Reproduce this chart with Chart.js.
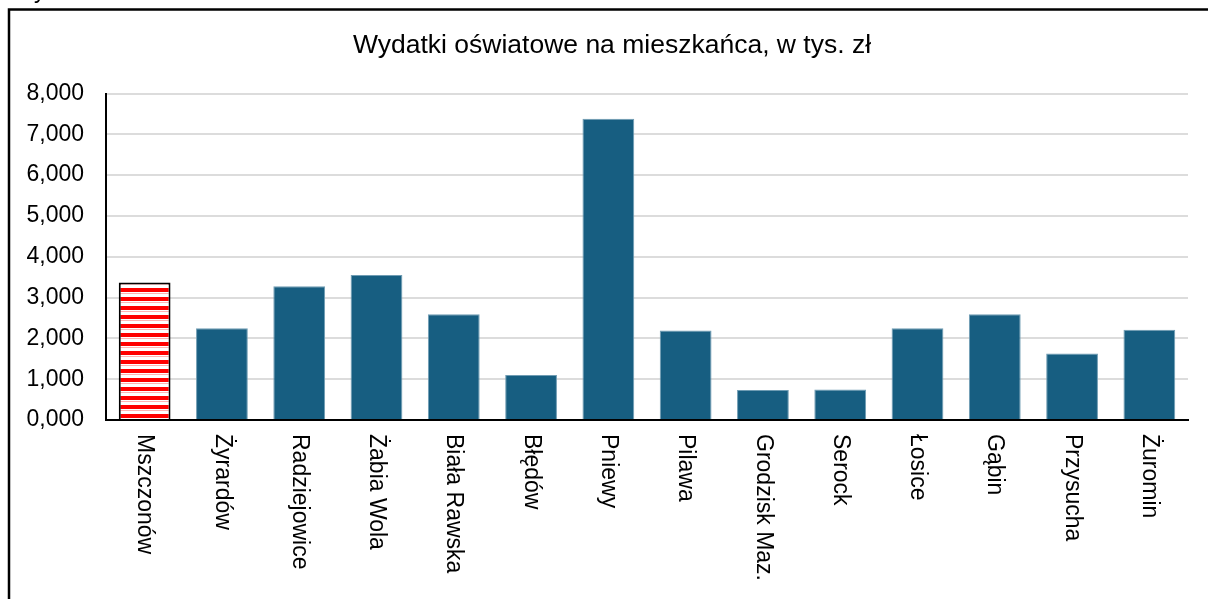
<!DOCTYPE html>
<html lang="pl">
<head>
  <meta charset="UTF-8" />
  <title>Wydatki oświatowe na mieszkańca</title>
  <script src="https://cdn.jsdelivr.net/npm/chart.js"></script>
  <style>
    html, body {
      margin: 0;
      padding: 0;
      background: #ffffff;
      overflow: hidden;
    }
    .wrap {
      position: relative;
      width: 1208px;
      height: 599px;
    }
    .cut {
      position: absolute;
      left: 34px;
      top: -23px;
      font: 23px 'Liberation Sans', Arial, sans-serif;
      color: #000;
    }
  </style>
</head>
<body>
  <div class="wrap">
    <canvas id="chart" width="1208" height="599"></canvas>
    <span class="cut">y</span>
  </div>

  <script>
    // dane (tys. zł na mieszkańca)
    const gminy = ['Mszczonów', 'Żyrardów', 'Radziejowice', 'Żabia Wola', 'Biała Rawska', 'Błędów',
      'Pniewy', 'Pilawa', 'Grodzisk Maz.', 'Serock', 'Łosice', 'Gąbin', 'Przysucha', 'Żuromin'];
    const wydatki = [3.37, 2.25, 3.28, 3.55, 2.59, 1.10, 7.38, 2.19, 0.735, 0.75, 2.25, 2.59, 1.63, 2.21];
    const yTicks = [0, 1, 2, 3, 4, 5, 6, 7, 8];
    const tytul = 'Wydatki oświatowe na mieszkańca, w tys. zł';

    const FONT = "'Liberation Sans', Arial, sans-serif";
    const BLUE = '#175e81';

    // paski czerwone dla Mszczonowa
    function stripes() {
      const c = document.createElement('canvas');
      c.width = 8;
      c.height = 9;
      const g = c.getContext('2d');
      g.fillStyle = '#ffffff';
      g.fillRect(0, 0, 8, 9);
      g.fillStyle = '#ff0000';
      g.fillRect(0, 0, 8, 4);
      g.fillStyle = '#ffb3b3';
      g.fillRect(0, 5, 8, 1);
      return g.createPattern(c, 'repeat');
    }
    const ctx = document.getElementById('chart').getContext('2d');
    const pat = stripes();

    // ramka wykresu + tytuł (wyśrodkowany w ramce, nie w obszarze danych)
    const frame = {
      id: 'frame',
      beforeDraw(chart) {
        const c = chart.ctx;
        c.save();
        c.strokeStyle = '#000';
        c.lineWidth = 2.5;
        c.beginPath();
        c.moveTo(9, 620);
        c.lineTo(9, 9.5);
        c.lineTo(1230, 9.5);
        c.stroke();
        c.fillStyle = '#000';
        c.font = '26.5px ' + FONT;
        c.textAlign = 'center';
        c.textBaseline = 'middle';
        c.fillText(tytul, 612, 46);
        c.restore();
      }
    };

    // etykiety osi X czytane z góry na dół
    const downLabels = {
      id: 'downLabels',
      afterDraw(chart) {
        const x = chart.scales.x;
        const c = chart.ctx;
        c.save();
        c.fillStyle = '#000';
        c.font = '23px ' + FONT;
        c.textAlign = 'left';
        c.textBaseline = 'middle';
        gminy.forEach((g, i) => {
          c.save();
          c.translate(x.getPixelForValue(i), x.top + 14);
          c.rotate(Math.PI / 2);
          c.fillText(g, 0, 0);
          c.restore();
        });
        c.restore();
      }
    };

    new Chart(ctx, {
      type: 'bar',
      data: {
        labels: gminy,
        datasets: [{
          data: wydatki,
          backgroundColor: wydatki.map((v, i) => i === 0 ? pat : BLUE),
          borderColor: wydatki.map((v, i) => i === 0 ? '#000000' : '#6f9cb3'),
          borderWidth: wydatki.map((v, i) => i === 0 ? 2 : 1),
          barPercentage: 0.67,
          categoryPercentage: 1.0
        }]
      },
      options: {
        responsive: false,
        animation: false,
        layout: { padding: { left: 0, right: 20, top: 93.5, bottom: 0 } },
        plugins: {
          legend: { display: false },
          tooltip: { enabled: false },
          title: { display: false }
        },
        scales: {
          x: {
            grid: { display: false, drawTicks: false },
            border: { display: true, color: '#000', width: 2 },
            ticks: { display: false },
            afterFit(scale) { scale.height = 179; }
          },
          y: {
            min: 0,
            max: 8,
            afterBuildTicks(scale) { scale.ticks = yTicks.map(v => ({ value: v })); },
            grid: { color: '#dcdcdc', lineWidth: 2, drawTicks: false },
            border: { display: true, color: '#000', width: 2 },
            ticks: {
              color: '#000',
              padding: 22,
              font: { family: FONT, size: 23 },
              callback: v => v.toFixed(3).replace('.', ',')
            },
            afterFit(scale) { scale.width = 106; }
          }
        }
      },
      plugins: [frame, downLabels]
    });
  </script>
</body>
</html>
